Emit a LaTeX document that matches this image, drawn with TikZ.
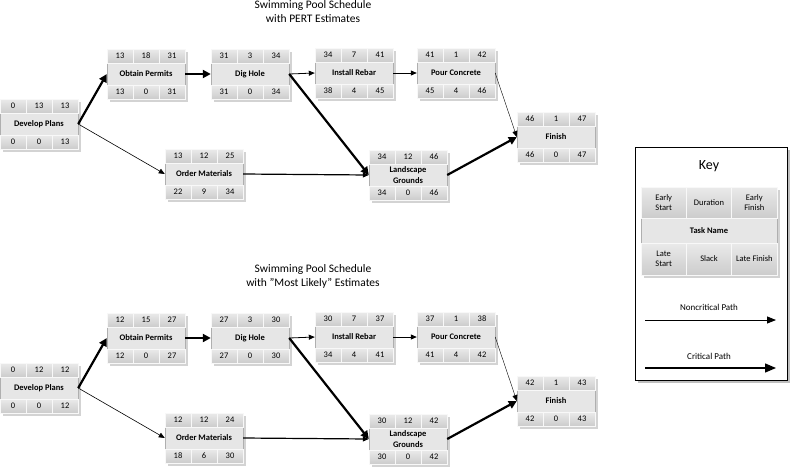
\documentclass[tikz,border=0pt]{standalone}
\usepackage{fontspec}
\setmainfont{Carlito}
\usepackage{tikz}
\usetikzlibrary{
  arrows.meta,
  calc,
  shadows
}
\definecolor{celltop}{RGB}{234,234,234}
\definecolor{cellbot}{RGB}{204,204,204}
\definecolor{namegray}{RGB}{230,230,230}
\definecolor{cellline}{RGB}{248,248,248}
\definecolor{boxline}{RGB}{175,175,175}

% one activity box: name, position, ES, duration, EF, task, LS, slack, LF
\newcommand{\pertbox}[9]{%
  \node[task] (#1) at #2 {};
  \node[cell,anchor=north west] (#1-es) at (#1.north west) {#3};
  \node[cell,anchor=north] (#1-du) at (#1.north) {#4};
  \node[cell,anchor=north east] (#1-ef) at (#1.north east) {#5};
  \node[taskname] (#1-tn) at (#1.center) {#6};
  \node[cell,anchor=south west] (#1-ls) at (#1.south west) {#7};
  \node[cell,anchor=south] (#1-sl) at (#1.south) {#8};
  \node[cell,anchor=south east] (#1-lf) at (#1.south east) {#9};
}

\begin{document}
\begin{tikzpicture}[
  x=1pt,y=-1pt,
  task/.style={rectangle,draw=boxline,fill=namegray,minimum width=78pt,minimum height=50pt,inner sep=0pt,
    drop shadow={opacity=0.35,shadow xshift=2.5pt,shadow yshift=-2.5pt}},
  cell/.style={rectangle,draw=cellline,top color=celltop,bottom color=cellbot,minimum width=26pt,minimum height=14pt,
    inner sep=0pt,font=\fontsize{8.5}{9}\selectfont},
  taskname/.style={align=center,inner sep=0pt,font=\fontsize{8.5}{11}\selectfont\bfseries},
  title/.style={align=center,font=\fontsize{11.5}{14}\selectfont},
  crit/.style={-{Triangle[length=8pt,width=8pt]},line width=2.2pt},
  noncrit/.style={-{Triangle[length=6pt,width=5pt]},line width=0.8pt},
  keycell/.style={rectangle,draw=cellline,top color=celltop,bottom color=cellbot,minimum width=45.33pt,inner sep=0pt,
    align=center,font=\fontsize{8.5}{10}\selectfont},
]
\useasboundingbox (0,0) rectangle (800,472);

% PERT estimates
\node[title] (p-title) at (313,12) {Swimming Pool Schedule\\with PERT Estimates};
\pertbox{p-dp}{(39,124)}{0}{13}{13}{Develop Plans}{0}{0}{13}
\pertbox{p-op}{(146,74)}{13}{18}{31}{Obtain Permits}{13}{0}{31}
\pertbox{p-dh}{(250,74)}{31}{3}{34}{Dig Hole}{31}{0}{34}
\pertbox{p-ir}{(354,73)}{34}{7}{41}{Install Rebar}{38}{4}{45}
\pertbox{p-pc}{(456,73)}{41}{1}{42}{Pour Concrete}{45}{4}{46}
\pertbox{p-om}{(204,174)}{13}{12}{25}{Order Materials}{22}{9}{34}
\pertbox{p-lg}{(408,175)}{34}{12}{46}{Landscape\\Grounds}{34}{0}{46}
\pertbox{p-fn}{(556,137)}{46}{1}{47}{Finish}{46}{0}{47}

% most likely estimates
\node[title] (m-title) at (313,276) {Swimming Pool Schedule\\with "Most Likely" Estimates};
\pertbox{m-dp}{(39,388)}{0}{12}{12}{Develop Plans}{0}{0}{12}
\pertbox{m-op}{(146,338)}{12}{15}{27}{Obtain Permits}{12}{0}{27}
\pertbox{m-dh}{(250,338)}{27}{3}{30}{Dig Hole}{27}{0}{30}
\pertbox{m-ir}{(354,337)}{30}{7}{37}{Install Rebar}{34}{4}{41}
\pertbox{m-pc}{(456,337)}{37}{1}{38}{Pour Concrete}{41}{4}{42}
\pertbox{m-om}{(204,438)}{12}{12}{24}{Order Materials}{18}{6}{30}
\pertbox{m-lg}{(408,439)}{30}{12}{42}{Landscape\\Grounds}{30}{0}{42}
\pertbox{m-fn}{(556,401)}{42}{1}{43}{Finish}{42}{0}{43}

\foreach \s in {p,m} {
  \draw[crit] (\s-dp.east) -- (\s-op.west);
  \draw[noncrit,line width=0.6pt] (\s-dp.east) -- (\s-om.west);
  \draw[crit] (\s-op.east) -- (\s-dh.west);
  \draw[noncrit] (\s-dh.east) -- (\s-ir.west);
  \draw[crit] (\s-dh.east) -- (\s-lg.west);
  \draw[noncrit,line width=1.2pt] (\s-om.east) -- (\s-lg.west);
  \draw[noncrit] (\s-ir.east) -- (\s-pc.west);
  \draw[noncrit,line width=0.4pt] (\s-pc.east) -- (\s-fn.west);
  \draw[crit] (\s-lg.east) -- (\s-fn.west);
}

% key
\node[rectangle,draw=black,fill=white,line width=0.8pt,minimum width=152pt,minimum height=233pt,
  drop shadow={opacity=0.5,shadow xshift=3pt,shadow yshift=-3pt}] (key) at (711,263.5) {};
\node[font=\fontsize{14}{16}\selectfont] (key-title) at (709,166) {Key};
\node[rectangle,draw=boxline,fill=namegray,minimum width=136pt,minimum height=88pt,inner sep=0pt,
  drop shadow={opacity=0.35,shadow xshift=2.5pt,shadow yshift=-2.5pt}] (keytab) at (709,231) {};
\node[keycell,minimum height=31pt,anchor=north west] (key-es) at (keytab.north west) {Early\\Start};
\node[keycell,minimum height=31pt,anchor=north] (key-du) at (keytab.north) {Duration};
\node[keycell,minimum height=31pt,anchor=north east] (key-ef) at (keytab.north east) {Early\\Finish};
\node[taskname] (key-tn) at ($(keytab.center)+(0,-0.5)$) {Task Name};
\node[keycell,minimum height=32pt,anchor=south west] (key-ls) at (keytab.south west) {Late\\Start};
\node[keycell,minimum height=32pt,anchor=south] (key-sl) at (keytab.south) {Slack};
\node[keycell,minimum height=32pt,anchor=south east] (key-lf) at (keytab.south east) {Late Finish};

\node[font=\fontsize{9}{10}\selectfont] (nc-label) at (709,307) {Noncritical Path};
\coordinate (nc-a) at (645,320);
\coordinate (nc-b) at (776,320);
\draw[-{Triangle[length=9pt,width=7pt]},line width=0.9pt] (nc-a) -- (nc-b);
\node[font=\fontsize{9}{10}\selectfont] (cr-label) at (709,356) {Critical Path};
\coordinate (cr-a) at (645,368);
\coordinate (cr-b) at (776,368);
\draw[-{Triangle[length=11pt,width=9pt]},line width=1.4pt] (cr-a) -- (cr-b);
\end{tikzpicture}
\end{document}
